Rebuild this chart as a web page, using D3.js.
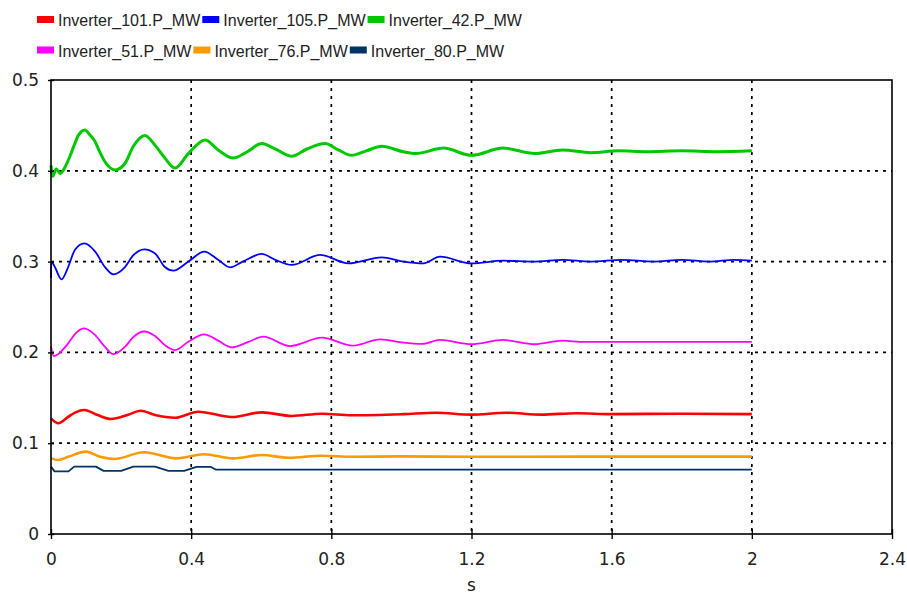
<!DOCTYPE html>
<html>
<head>
<meta charset="utf-8">
<script src="https://cdn.jsdelivr.net/npm/d3@7/dist/d3.min.js"></script>
<style>
  html, body { margin: 0; padding: 0; background: #fff; }
  svg { display: block; }
</style>
</head>
<body>
<svg id="chart" width="907" height="594"></svg>
<script>
// ---------------- DATA ----------------
const seriesNames = ["Inverter_101.P_MW", "Inverter_105.P_MW", "Inverter_42.P_MW",
                     "Inverter_51.P_MW", "Inverter_76.P_MW", "Inverter_80.P_MW"];
const seriesColors = ["#ff0000", "#0000ff", "#00c800", "#ff00ff", "#ff9900", "#003366"];

const xTicks = [0, 0.4, 0.8, 1.2, 1.6, 2, 2.4];
const yTicks = [0, 0.1, 0.2, 0.3, 0.4, 0.5];
const xGrid = [0.4, 0.8, 1.2, 1.6, 2];
const yGrid = [0.1, 0.2, 0.3, 0.4];
const xTitle = "s";

// [time s, power MW]
const inv101 = [[0,0.1274],[0.021,0.122],[0.049,0.129],[0.07,0.134],[0.095,0.1366],[0.133,0.131],
  [0.171,0.1267],[0.218,0.131],[0.256,0.1358],[0.297,0.131],[0.354,0.128],[0.42,0.1347],
  [0.516,0.1289],[0.601,0.134],[0.687,0.130],[0.773,0.1325],[0.858,0.1307],[1.005,0.132],
  [1.1,0.1335],[1.2,0.1315],[1.3,0.1335],[1.4,0.1315],[1.5,0.133],[1.6,0.132],[1.8,0.1325],[2.0,0.132]];

const inv105 = [[0,0.282],[0.001,0.300],[0.011,0.294],[0.030,0.2805],[0.049,0.294],[0.068,0.3128],
  [0.095,0.320],[0.126,0.311],[0.154,0.294],[0.178,0.286],[0.211,0.294],[0.235,0.307],
  [0.266,0.3135],[0.297,0.309],[0.325,0.294],[0.349,0.290],[0.392,0.300],[0.4375,0.311],
  [0.477,0.302],[0.511,0.2937],[0.547,0.300],[0.601,0.3084],[0.64,0.302],[0.687,0.2963],
  [0.768,0.3073],[0.849,0.298],[0.944,0.3047],[1.005,0.300],[1.063,0.298],[1.11,0.3054],
  [1.2,0.298],[1.29,0.301],[1.38,0.300],[1.46,0.302],[1.54,0.300],[1.63,0.302],[1.72,0.300],
  [1.8,0.302],[1.88,0.300],[1.95,0.302],[2.0,0.301]];

const inv42 = [[0,0.406],[0.005,0.394],[0.015,0.402],[0.026,0.397],[0.04,0.404],[0.054,0.416],
  [0.066,0.428],[0.078,0.439],[0.097,0.445],[0.11,0.440],[0.126,0.432],[0.14,0.420],
  [0.154,0.410],[0.183,0.401],[0.211,0.408],[0.235,0.427],[0.268,0.439],[0.297,0.428],
  [0.325,0.414],[0.354,0.403],[0.392,0.419],[0.44,0.434],[0.477,0.423],[0.52,0.414],
  [0.56,0.421],[0.601,0.430],[0.64,0.424],[0.687,0.416],[0.73,0.424],[0.782,0.430],
  [0.82,0.423],[0.858,0.417],[0.9,0.422],[0.944,0.427],[1.005,0.421],[1.04,0.419],
  [1.12,0.425],[1.2,0.417],[1.29,0.425],[1.38,0.419],[1.46,0.423],[1.54,0.420],[1.62,0.422],
  [1.7,0.421],[1.8,0.422],[1.9,0.421],[2.0,0.422]];

const inv51 = [[0,0.206],[0.008,0.196],[0.02,0.198],[0.049,0.210],[0.07,0.221],[0.095,0.2265],
  [0.126,0.219],[0.154,0.206],[0.178,0.198],[0.211,0.206],[0.235,0.217],[0.266,0.223],
  [0.297,0.218],[0.325,0.208],[0.354,0.2026],[0.392,0.2118],[0.4375,0.2199],[0.477,0.213],
  [0.516,0.2056],[0.56,0.211],[0.606,0.2173],[0.682,0.207],[0.773,0.2162],[0.861,0.2074],
  [0.94,0.2144],[1.005,0.2107],[1.06,0.2093],[1.11,0.2137],[1.2,0.209],[1.29,0.2137],
  [1.38,0.209],[1.46,0.213],[1.52,0.2115],[2.0,0.2115]];

const inv76 = [[0,0.0833],[0.021,0.0815],[0.049,0.085],[0.1,0.0907],[0.14,0.085],[0.18,0.0826],
  [0.266,0.090],[0.357,0.0833],[0.437,0.0878],[0.52,0.0833],[0.601,0.087],[0.677,0.084],
  [0.773,0.0862],[0.858,0.085],[1.005,0.0855],[1.2,0.085],[1.5,0.0852],[2.0,0.0852]];

const inv80 = [[0,0.0742],[0.01,0.069],[0.05,0.069],[0.066,0.0742],[0.128,0.0742],[0.15,0.0695],
  [0.2,0.0695],[0.235,0.0742],[0.297,0.0742],[0.335,0.0695],[0.38,0.0695],[0.415,0.074],
  [0.455,0.074],[0.47,0.071],[2.0,0.071]];

const seriesData = [inv101, inv105, inv42, inv51, inv76, inv80];

// ---------------- LAYOUT / STYLE ----------------
const W = 907, H = 594;
const margin = {left: 51, top: 80, right: 15, bottom: 60};
const pw = W - margin.left - margin.right;
const ph = H - margin.top - margin.bottom;
const strokeW = [2.6, 1.8, 3.0, 1.8, 2.6, 1.8];
const curves = [d3.curveMonotoneX, d3.curveMonotoneX, d3.curveMonotoneX, d3.curveMonotoneX, d3.curveMonotoneX, d3.curveLinear];

const svg = d3.select("#chart");
const x = d3.scaleLinear().domain([0, 2.4]).range([0, pw]);
const y = d3.scaleLinear().domain([0, 0.5]).range([ph, 0]);

const g = svg.append("g").attr("transform", `translate(${margin.left},${margin.top})`);

// grid
g.append("g").selectAll("line").data(yGrid).join("line")
  .attr("x1", 0).attr("x2", pw)
  .attr("y1", d => y(d)).attr("y2", d => y(d))
  .attr("stroke", "#000").attr("stroke-width", 1.7).attr("stroke-dasharray", "3,5");
g.append("g").selectAll("line").data(xGrid).join("line")
  .attr("y1", 0).attr("y2", ph)
  .attr("x1", d => x(d)).attr("x2", d => x(d))
  .attr("stroke", "#000").attr("stroke-width", 1.7).attr("stroke-dasharray", "3,5");

// series
seriesData.forEach((data, i) => {
  const line = d3.line().x(d => x(d[0])).y(d => y(d[1])).curve(curves[i]);
  g.append("path").datum(data)
    .attr("fill", "none")
    .attr("stroke", seriesColors[i])
    .attr("stroke-width", strokeW[i])
    .attr("stroke-linejoin", "round")
    .attr("d", line);
});

// frame
g.append("rect").attr("x", 0).attr("y", 0).attr("width", pw).attr("height", ph)
  .attr("fill", "none").attr("stroke", "#000").attr("stroke-width", 1.6);

// axes
const fontTick = "'DejaVu Sans', Verdana, sans-serif";
const xAxis = g.append("g").attr("transform", `translate(0,${ph})`)
  .call(d3.axisBottom(x).tickValues(xTicks).tickSize(5).tickSizeOuter(0).tickPadding(14).tickFormat(d3.format("")));
xAxis.select(".domain").remove();
xAxis.selectAll(".tick line").attr("y1", -5).attr("y2", 5).attr("stroke-width", 1.4);
xAxis.selectAll(".tick text").attr("font-family", fontTick).attr("font-size", 17).attr("fill", "#222");

const yAxis = g.append("g")
  .call(d3.axisLeft(y).tickValues(yTicks).tickSize(3).tickSizeOuter(0).tickPadding(9).tickFormat(d3.format("")));
yAxis.select(".domain").remove();
yAxis.selectAll(".tick line").attr("x1", -3).attr("x2", 3).attr("stroke-width", 1.4);
yAxis.selectAll(".tick text").attr("font-family", fontTick).attr("font-size", 17).attr("fill", "#222");

// x title
svg.append("text").attr("x", margin.left + pw / 2).attr("y", 591)
  .attr("text-anchor", "middle").attr("font-family", fontTick).attr("font-size", 17)
  .attr("fill", "#222").text(xTitle);

// legend
const leg = svg.append("g");
const rows = [[0, 1, 2], [3, 4, 5]];
const rowY = [19.5, 50];
rows.forEach((row, r) => {
  let cx = 37;
  row.forEach(i => {
    leg.append("rect").attr("x", cx).attr("y", rowY[r] - 3.5).attr("width", 17).attr("height", 7)
      .attr("fill", seriesColors[i]);
    const t = leg.append("text").attr("x", cx + 21).attr("y", rowY[r] + 6.5)
      .attr("font-family", "'Liberation Sans', Arial, sans-serif").attr("font-size", 16)
      .attr("fill", "#222").text(seriesNames[i]);
    cx += 21 + t.node().getComputedTextLength() + 2;
  });
});
</script>
</body>
</html>
